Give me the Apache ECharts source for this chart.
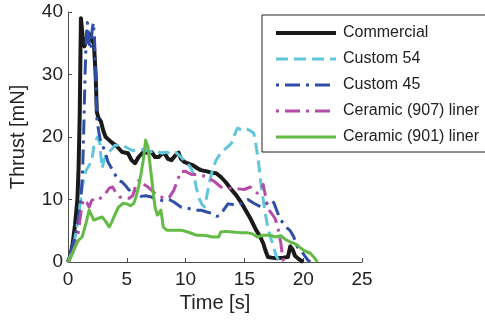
<!DOCTYPE html>
<html>
<head>
<meta charset="utf-8">
<script src="https://cdn.jsdelivr.net/npm/echarts@6/dist/echarts.min.js"></script>
<style>
  html, body { margin: 0; padding: 0; background: #fff; }
  #chart { width: 485px; height: 320px; }
</style>
</head>
<body>
<div id="chart"></div>
<script>
// thrust traces, [time s, thrust mN]
const commercial = [[0,0],[0.2,1],[0.4,3],[0.6,6],[0.8,10],[0.9,15],[1.0,24],[1.05,32],[1.1,39],[1.25,36],[1.4,34.5],[1.6,36],[1.8,36.5],[2.0,35.5],[2.2,35],[2.35,30],[2.45,24],[2.6,23],[2.8,22.5],[3.0,21],[3.2,20],[3.5,19.5],[3.8,19],[4.1,18.6],[4.4,18],[4.6,17.6],[5.1,17.4],[5.4,16.3],[5.7,15.8],[6.0,16.8],[6.3,17.4],[6.7,17.5],[7.1,17.6],[7.4,16.8],[7.7,16.8],[8.0,17.3],[8.2,17.4],[8.5,16.5],[8.8,16.3],[9.1,17],[9.4,17.5],[9.6,16.5],[9.9,16],[10.3,15.7],[10.6,15.5],[11,15],[11.3,14.7],[11.8,14.5],[12.2,14.3],[12.6,14.2],[13.0,13.6],[13.4,12.8],[13.8,11.8],[14.3,10.7],[14.7,9.6],[15.1,8.3],[15.5,7],[16,5.1],[16.3,4.2],[16.6,3],[16.8,1.8],[17,0.8],[17.3,0.7],[17.8,0.6],[18.3,0.7],[18.7,0.8],[18.9,2.5],[19.1,2],[19.3,1],[19.6,0.5],[20,0]];

const custom54 = [[0,0],[0.3,1.5],[0.6,4],[0.9,7],[1.2,12],[1.5,14.5],[1.8,15.5],[2.0,16],[2.2,18.5],[2.5,20],[2.7,19],[2.9,15],[3.1,16.5],[3.4,17.5],[3.7,18],[4.0,18.7],[4.6,18.7],[5.1,18.2],[5.5,17.8],[6.0,18],[6.5,18],[7.0,17.6],[7.5,17.8],[8.0,17.4],[8.4,17.6],[8.8,17.2],[9.2,17.5],[9.6,16.8],[10.0,16],[10.4,15.2],[10.7,14],[10.9,12],[11.1,10.4],[11.4,9.2],[11.6,8.8],[11.8,10.5],[12.0,12.6],[12.3,14.8],[12.6,16.3],[13.0,17.5],[13.5,18.3],[13.9,19],[14.2,20.5],[14.4,21.4],[14.7,21.2],[15.1,21.4],[15.5,21],[15.8,20.6],[16.0,18.5],[16.2,16],[16.4,12.6],[16.6,10],[16.8,7.5],[17.0,5.5],[17.2,4],[17.4,3],[17.7,1],[17.9,0.3],[18,0]];

const custom45 = [[0,0],[0.3,2],[0.6,4],[0.9,7],[1.1,10],[1.25,15],[1.35,22],[1.45,30],[1.55,36],[1.65,38.3],[1.8,35],[1.95,34],[2.05,37],[2.15,38.3],[2.25,36],[2.35,30],[2.45,23],[2.6,21],[2.8,19],[3.1,18],[3.4,16],[3.7,15],[4.0,14],[4.3,13],[4.6,12.8],[4.9,12.2],[5.2,11.5],[5.5,12],[5.8,11],[6.2,10.5],[6.6,10.6],[7.1,10.4],[7.6,10],[8.1,9.8],[8.6,10],[9.0,9.6],[9.6,8.8],[10.2,8.6],[10.8,8.3],[11.3,8.3],[11.8,8],[12.2,7.8],[12.6,7.3],[12.9,7.4],[13.3,8.5],[13.6,9.3],[14.0,9.2],[14.4,9.1],[14.9,9.5],[15.3,10],[15.8,9.4],[16.4,8.8],[16.8,9.2],[17.2,9.9],[17.5,9.5],[17.8,8],[18.0,7],[18.3,6.2],[18.6,5.5],[18.9,5],[19.2,4],[19.5,2.4],[19.9,1.6],[20.2,0.8],[20.4,0.3],[20.6,0]];

const ceramic907 = [[0,0],[0.4,1.5],[0.7,3],[0.9,5],[1.1,8],[1.3,10],[1.6,9.5],[1.8,8.8],[2.0,9.8],[2.3,10.2],[2.6,10],[2.9,10.4],[3.2,11],[3.5,11.8],[3.8,12],[4.1,11],[4.4,10.4],[4.8,10.2],[5.2,10.2],[5.5,10.6],[5.8,12.5],[6.1,13.2],[6.4,12.5],[6.8,12],[7.1,11.5],[7.4,11],[7.8,10.5],[8.2,10.2],[8.6,10.3],[9.0,11.5],[9.3,13],[9.6,14.5],[10.0,14.5],[10.5,14],[11.0,14],[11.5,13.8],[12.0,13.4],[12.5,12.8],[13.0,12],[13.5,11.8],[14.0,11.8],[14.5,11.7],[15.0,11.6],[15.5,12],[15.8,11.5],[16.1,11],[16.4,11.5],[16.6,12.4],[16.8,10.5],[17.0,8.5],[17.3,7.8],[17.6,7],[17.9,5],[18.1,3],[18.2,1.5],[18.3,0.3],[18.4,0]];

const ceramic901 = [[0,0],[0.3,1],[0.6,2.4],[0.9,3.5],[1.2,4],[1.5,6],[1.8,8.3],[2.0,7.5],[2.2,6.7],[2.6,7],[2.9,7.2],[3.2,6.5],[3.5,5.6],[3.7,6.3],[3.9,7.2],[4.3,8.8],[4.7,9.4],[5.0,9.3],[5.3,9],[5.6,9.4],[5.8,10.5],[6.0,12],[6.2,14],[6.4,16.3],[6.6,19.5],[6.7,19.3],[6.8,18.4],[6.95,16],[7.1,13.6],[7.25,11],[7.4,8.8],[7.6,7.5],[7.7,7.2],[7.9,8.3],[8.0,7],[8.1,5.6],[8.4,5.1],[9.0,5.1],[9.6,5.1],[10.2,4.8],[10.9,4.3],[11.3,4.3],[11.8,4.2],[12.3,4],[12.8,4],[13.0,4.8],[13.4,4.9],[14.0,4.8],[14.6,4.7],[15.2,4.7],[15.7,4.5],[16.1,4],[16.6,4.3],[17.2,4.3],[17.6,4],[18.1,4.2],[18.5,3.6],[18.9,3.2],[19.2,3],[19.5,2.7],[19.8,2.2],[20.1,1.8],[20.6,1.4],[20.9,0.8],[21.1,0.3],[21.2,0]];

const seriesNames = ["Commercial", "Custom 54", "Custom 45", "Ceramic (907) liner", "Ceramic (901) liner"];

const FONT = "Liberation Sans, Arial, Helvetica, sans-serif";
const axisColor = "#4d4d4d";

const styles = [
  { color: "#1a1a1a", width: 4, type: "solid" },
  { color: "#62c6da", width: 3, type: [12, 6] },
  { color: "#2f4fa6", width: 3, type: [3, 6, 15, 6] },
  { color: "#b54ca8", width: 3, type: [3, 6, 15, 6] },
  { color: "#63bb45", width: 3, type: "solid" },
];

const traces = [commercial, custom54, custom45, ceramic907, ceramic901];

const chart = echarts.init(document.getElementById("chart"), null, { renderer: "canvas" });

chart.setOption({
  animation: false,
  backgroundColor: "#fff",
  textStyle: { fontFamily: FONT },
  grid: { left: 66, right: 123, top: 12, bottom: 58 },
  legend: {
    orient: "vertical",
    left: 262,
    top: 15,
    data: seriesNames.map((n, i) => ({
      name: n,
      lineStyle: { width: styles[i].width, type: styles[i].type, color: styles[i].color },
    })),
    backgroundColor: "#fff",
    borderColor: "#222",
    borderWidth: 1,
    borderRadius: 0,
    padding: [10, 30, 7, 12],
    itemWidth: 60,
    itemHeight: 14,
    itemGap: 10,
    itemStyle: { opacity: 0 },
    textStyle: { fontFamily: FONT, fontSize: 16, color: "#222", padding: [0, 0, 0, 2] },
  },
  xAxis: {
    type: "value",
    min: 0,
    max: 25,
    interval: 5,
    name: "Time [s]",
    nameLocation: "middle",
    nameGap: 31,
    nameTextStyle: { fontFamily: FONT, fontSize: 20, color: "#222" },
    axisLine: { lineStyle: { color: axisColor, width: 1 } },
    axisTick: { inside: true, length: 4, lineStyle: { color: axisColor } },
    axisLabel: { fontFamily: FONT, fontSize: 19, color: "#222", margin: 8 },
    splitLine: { show: false },
  },
  yAxis: {
    type: "value",
    min: 0,
    max: 40,
    interval: 10,
    name: "Thrust [mN]",
    nameLocation: "middle",
    nameGap: 40,
    nameTextStyle: { fontFamily: FONT, fontSize: 20, color: "#222" },
    axisLine: { show: true, lineStyle: { color: axisColor, width: 1 } },
    axisTick: { show: true, inside: true, length: 4, lineStyle: { color: axisColor } },
    axisLabel: { fontFamily: FONT, fontSize: 19, color: "#222", margin: 5 },
    splitLine: { show: false },
  },
  series: traces.map((d, i) => ({
    name: seriesNames[i],
    type: "line",
    data: d,
    symbol: "none",
    showSymbol: false,
    clip: true,
    itemStyle: { color: styles[i].color },
    lineStyle: { color: styles[i].color, width: styles[i].width, type: styles[i].type, join: "round" },
  })),
});
</script>
</body>
</html>
